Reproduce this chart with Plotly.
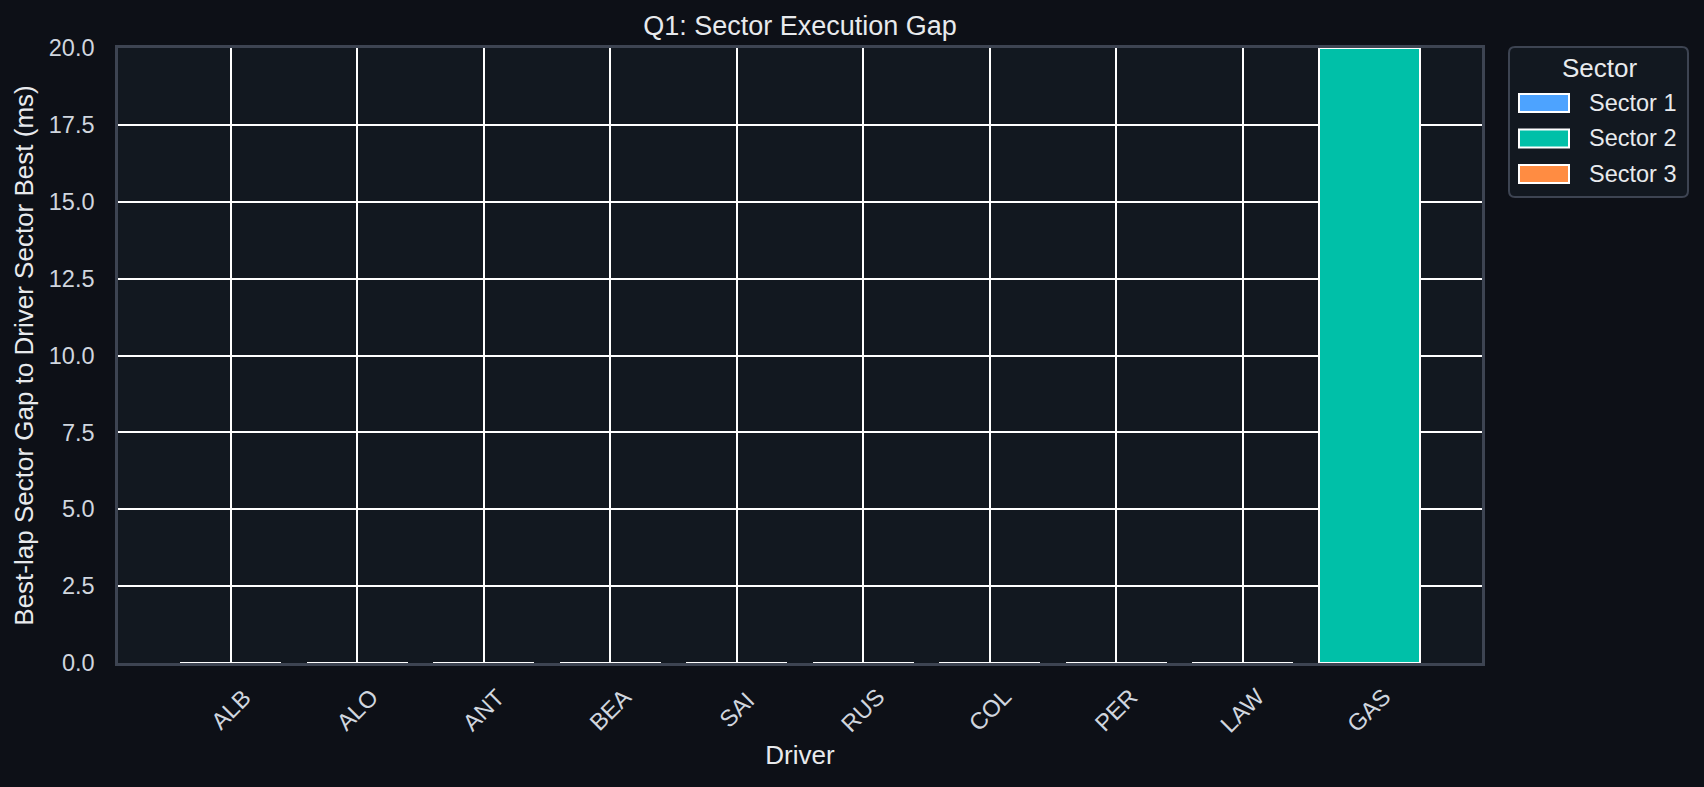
import plotly.graph_objects as go

drivers = ["ALB", "ALO", "ANT", "BEA", "SAI", "RUS", "COL", "PER", "LAW", "GAS"]
sector_1 = [0.0, 0.0, 0.0, 0.0, 0.0, 0.0, 0.0, 0.0, 0.0, 0.0]
sector_2 = [0.0, 0.0, 0.0, 0.0, 0.0, 0.0, 0.0, 0.0, 0.0, 20.0]
sector_3 = [0.0, 0.0, 0.0, 0.0, 0.0, 0.0, 0.0, 0.0, 0.0, 0.0]
sector_names = ["Sector 1", "Sector 2", "Sector 3"]
sector_colors = ["#4da3ff", "#00c0a8", "#ff8c42"]

W, H = 1704, 787
PLOT_L, PLOT_R, PLOT_T, PLOT_B = 118, 1482, 48, 663

PAPER = "#0d1017"
PANEL = "#121820"
SPINE = "#3d4452"
TEXT = "#e8eaed"
TICK_TEXT = "#d0d6df"
FONT = "Liberation Sans, Arial, sans-serif"


def px_x(px):
    # pixel column -> paper x (relative to plot area)
    return (px - PLOT_L) / (PLOT_R - PLOT_L)


def px_y(py):
    return (PLOT_B - py) / (PLOT_B - PLOT_T)


def rounded_box(left, top, right, bottom, r=6):
    # rounded rectangle path in paper coords, corners given in pixels
    pts = [
        f"M{px_x(left + r)},{px_y(top)}",
        f"L{px_x(right - r)},{px_y(top)}",
        f"Q{px_x(right)},{px_y(top)} {px_x(right)},{px_y(top + r)}",
        f"L{px_x(right)},{px_y(bottom - r)}",
        f"Q{px_x(right)},{px_y(bottom)} {px_x(right - r)},{px_y(bottom)}",
        f"L{px_x(left + r)},{px_y(bottom)}",
        f"Q{px_x(left)},{px_y(bottom)} {px_x(left)},{px_y(bottom - r)}",
        f"L{px_x(left)},{px_y(top + r)}",
        f"Q{px_x(left)},{px_y(top)} {px_x(left + r)},{px_y(top)}",
        "Z",
    ]
    return " ".join(pts)


fig = go.Figure()
for name, values, color in zip(sector_names, [sector_1, sector_2, sector_3], sector_colors):
    fig.add_trace(
        go.Bar(
            x=drivers,
            y=values,
            name=name,
            marker=dict(color=color, line=dict(color="white", width=2)),
            showlegend=False,
        )
    )

# rotated driver labels, centred on each category like matplotlib ha="center"
for driver in drivers:
    fig.add_annotation(
        x=driver,
        xref="x",
        y=px_y(710),
        yref="paper",
        text=driver,
        textangle=-45,
        showarrow=False,
        xanchor="center",
        yanchor="middle",
        font=dict(size=23.5, color=TICK_TEXT),
    )

# legend box drawn by hand so the swatches match the reference
fig.add_shape(
    type="path",
    xref="paper",
    yref="paper",
    path=rounded_box(1509, 47, 1688, 197),
    fillcolor=PANEL,
    line=dict(color=SPINE, width=2),
    layer="above",
)
fig.add_annotation(
    x=px_x(1599),
    y=px_y(68),
    xref="paper",
    yref="paper",
    text="Sector",
    showarrow=False,
    xanchor="center",
    yanchor="middle",
    font=dict(size=26, color=TEXT),
)
for i, (name, color) in enumerate(zip(sector_names, sector_colors)):
    yc = 103 + i * 35.5
    fig.add_shape(
        type="rect",
        xref="paper",
        yref="paper",
        x0=px_x(1519),
        x1=px_x(1569),
        y0=px_y(yc + 9),
        y1=px_y(yc - 9),
        fillcolor=color,
        line=dict(color="white", width=2),
        layer="above",
    )
    fig.add_annotation(
        x=px_x(1587),
        y=px_y(yc),
        xref="paper",
        yref="paper",
        text=name,
        showarrow=False,
        xanchor="left",
        yanchor="middle",
        font=dict(size=23.5, color=TEXT),
    )

fig.update_layout(
    barmode="stack",
    bargap=0.2,
    width=W,
    height=H,
    paper_bgcolor=PAPER,
    plot_bgcolor=PANEL,
    font=dict(family=FONT, size=23.5, color=TEXT),
    margin=dict(l=PLOT_L, r=W - PLOT_R, t=PLOT_T, b=H - PLOT_B, autoexpand=False),
    showlegend=False,
    title=dict(
        text="Q1: Sector Execution Gap",
        x=(PLOT_L + PLOT_R) / 2 / W,
        xanchor="center",
        y=1 - 26 / H,
        yanchor="middle",
        font=dict(size=27, color=TEXT),
    ),
)

fig.update_xaxes(
    title=dict(text="Driver", font=dict(size=26, color=TEXT), standoff=82),
    range=[-0.89, 9.89],
    showticklabels=False,
    showgrid=True,
    gridcolor="white",
    gridwidth=2,
    showline=True,
    mirror=True,
    linecolor=SPINE,
    linewidth=2.5,
    ticks="",
)
fig.update_yaxes(
    title=dict(
        text="Best-lap Sector Gap to Driver Sector Best (ms)",
        font=dict(size=26, color=TEXT),
        standoff=8,
    ),
    range=[0, 20],
    dtick=2.5,
    tickformat=".1f",
    tickfont=dict(size=23.5, color=TICK_TEXT),
    ticklabelstandoff=16,
    showgrid=True,
    gridcolor="white",
    gridwidth=2,
    zeroline=False,
    showline=True,
    mirror=True,
    linecolor=SPINE,
    linewidth=2.5,
    ticks="",
)

fig.write_html(
    "out.html",
    config={"displayModeBar": False},
    post_script="document.body.style.margin='0';document.body.style.background='%s';" % PAPER,
)
